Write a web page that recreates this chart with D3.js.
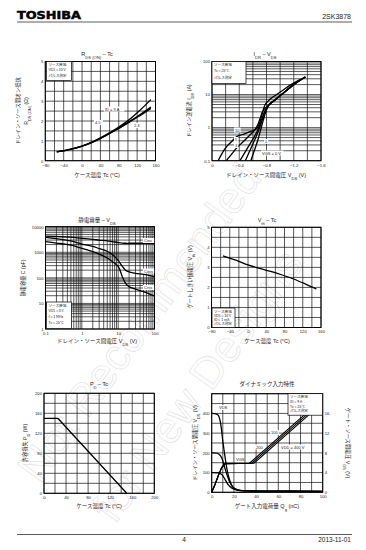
<!DOCTYPE html>
<meta charset="utf-8">
<style>
body { margin: 0; background: #fff; }
text { font-family: "Liberation Sans", Arial, sans-serif; fill: #222; }
.jp { font-family: "Noto Sans CJK JP", sans-serif; }
</style>
<svg id="page" width="366" height="550"></svg>
<script src="https://d3js.org/d3.v7.min.js"></script>
<script>

// ---- RDS(ON) - Tc
var rdsTc = [-55, -25, 0, 25, 50, 75, 100, 125, 150];
var rdsId9 = [0.45, 0.58, 0.74, 0.98, 1.28, 1.62, 2.02, 2.52, 3.08];
var rdsId45 = [0.44, 0.57, 0.73, 0.96, 1.25, 1.58, 1.93, 2.3, 2.7];
var rdsId23 = [0.44, 0.57, 0.73, 0.95, 1.24, 1.56, 1.9, 2.25, 2.63];

// ---- IDR - VDS  (one V / I pair per VGS)
var idr10V = [-0.09, -0.15, -0.21, -0.3, -0.36, -0.45, -0.55, -0.62, -0.66, -0.7, -0.73, -0.78, -0.86, -0.95, -1.05, -1.16, -1.27, -1.37];
var idr10I = [0.1, 0.17, 0.26, 0.4, 0.53, 0.62, 0.74, 0.85, 0.95, 1.4, 2.3, 5, 7.5, 10, 14, 20, 27, 34];
var idr5V = [-0.21, -0.28, -0.36, -0.46, -0.55, -0.62, -0.67, -0.71, -0.75, -0.84, -0.93, -1.02, -1.2, -1.37];
var idr5I = [0.1, 0.15, 0.24, 0.38, 0.58, 0.82, 1.2, 2, 3.3, 5, 7, 10, 20, 34];
var idr3V = [-0.41, -0.47, -0.54, -0.6, -0.66, -0.7, -0.74, -0.78, -0.84, -0.93, -1.02, -1.2, -1.37];
var idr3I = [0.1, 0.16, 0.28, 0.45, 0.75, 1.2, 2, 3.3, 5, 7, 10, 20, 34];
var idr1V = [-0.49, -0.54, -0.6, -0.65, -0.7, -0.74, -0.78, -0.84, -0.93, -1.02, -1.2, -1.37];
var idr1I = [0.1, 0.17, 0.32, 0.55, 1, 1.8, 3.2, 5, 7, 10, 20, 34];
var idr0V = [-0.57, -0.62, -0.67, -0.71, -0.75, -0.79, -0.84, -0.93, -1.02, -1.2, -1.37];
var idr0I = [0.1, 0.2, 0.4, 0.8, 1.6, 3, 5, 7, 10, 20, 34];

// ---- Capacitance - VDS
var capV = [0.1, 0.2, 0.5, 1, 2, 3, 5, 7, 10, 13, 16, 20, 30, 50, 100];
var ciss = [4300, 4200, 3900, 3500, 3200, 3000, 2800, 2600, 2400, 2300, 2250, 2250, 2250, 2250, 2250];
var coss = [3800, 3400, 2800, 2100, 1700, 1400, 1100, 800, 480, 280, 200, 172, 150, 137, 112];
var crss = [2600, 2300, 1900, 1420, 1050, 850, 600, 430, 280, 111, 61, 45, 36, 29, 19.5];

// ---- Vth - Tc
var vthTc = [-55, -25, 0, 25, 50, 75, 100, 125, 150];
var vth = [3.58, 3.35, 3.12, 2.95, 2.8, 2.62, 2.42, 2.18, 1.92];

// ---- PD - Tc
var pdTc = [0, 25, 150];
var pd = [150, 150, 0];

// ---- Dynamic input characteristics
var vds400Q = [0, 4, 6, 8, 10, 12, 14, 16, 18, 20, 24, 30, 50, 100];
var vds400 = [400, 398, 390, 350, 260, 180, 110, 65, 35, 20, 10, 7, 6, 5];
var vds200Q = [0, 5, 8, 10, 12, 14, 16, 18, 20, 24, 30, 50, 100];
var vds200 = [200, 198, 185, 160, 120, 85, 55, 35, 22, 12, 8, 6, 5];
var vds100Q = [0, 6, 9, 11, 13, 15, 18, 22, 28, 50, 100];
var vds100 = [100, 98, 90, 75, 55, 38, 22, 12, 8, 6, 5];
var vgsQ400 = [0, 3, 6, 9, 12, 38, 88];
var vgs400 = [0, 1.6, 3.4, 5, 5.8, 5.9, 15.8];
var vgsQ200 = [0, 3, 6, 9, 12, 36, 88];
var vgs200 = [0, 1.6, 3.4, 5, 5.8, 5.9, 16.2];
var vgsQ100 = [0, 3, 6, 9, 12, 34, 88];
var vgs100 = [0, 1.6, 3.4, 5, 5.8, 5.9, 16.6];

var svg = d3.select("#page");

// watermark
var wm = svg.append("g");
wm.append("text").attr("transform", "translate(40,485) rotate(-54)")
    .attr("font-size", 44).style("fill", "none").style("stroke", "#e0e0e0").style("stroke-width", 0.6)
    .text("Not Recommended");
wm.append("text").attr("transform", "translate(115,525) rotate(-54)")
    .attr("font-size", 44).style("fill", "none").style("stroke", "#e0e0e0").style("stroke-width", 0.6)
    .text("for New Designs");

// header / footer
svg.append("text").attr("x", 17).attr("y", 18.5).attr("font-size", 10.5).attr("font-weight", "bold")
    .attr("textLength", 64).attr("lengthAdjust", "spacingAndGlyphs")
    .style("font-family", "DejaVu Sans").style("fill", "#000").style("stroke", "#000").style("stroke-width", 0.5)
    .text("TOSHIBA");
svg.append("text").attr("x", 351).attr("y", 18.5).attr("font-size", 7).attr("text-anchor", "end").text("2SK3878");
svg.append("line").attr("x1", 17).attr("x2", 352).attr("y1", 22).attr("y2", 22).attr("stroke", "#333").attr("stroke-width", 0.8);
svg.append("line").attr("x1", 17).attr("x2", 352).attr("y1", 534.5).attr("y2", 534.5).attr("stroke", "#333").attr("stroke-width", 0.8);
svg.append("text").attr("x", 184).attr("y", 542).attr("font-size", 6.5).attr("text-anchor", "middle").text("4");
svg.append("text").attr("x", 351).attr("y", 542).attr("font-size", 6.5).attr("text-anchor", "end").text("2013-11-01");

// grid + frame
function panel(x, y, gx, gy) {
  var g = svg.append("g");
  var xr = x.range(), yr = y.range();
  g.selectAll(".gx").data(gx).enter().append("line")
      .attr("x1", d => x(d)).attr("x2", d => x(d))
      .attr("y1", yr[0]).attr("y2", yr[1])
      .attr("stroke", "#111").attr("stroke-width", 0.7);
  g.selectAll(".gy").data(gy).enter().append("line")
      .attr("y1", d => y(d)).attr("y2", d => y(d))
      .attr("x1", xr[0]).attr("x2", xr[1])
      .attr("stroke", "#111").attr("stroke-width", 0.7);
  g.append("rect")
      .attr("x", Math.min(xr[0], xr[1])).attr("y", Math.min(yr[0], yr[1]))
      .attr("width", Math.abs(xr[1] - xr[0])).attr("height", Math.abs(yr[1] - yr[0]))
      .attr("fill", "none").attr("stroke", "#000").attr("stroke-width", 1);
  return g;
}

function axes(g, x, y, xt, yt, xf, yf) {
  var ax = g.append("g").attr("transform", "translate(0," + y.range()[0] + ")")
      .call(d3.axisBottom(x).tickValues(xt).tickSize(0).tickPadding(3).tickFormat(xf || d3.format("")));
  ax.select(".domain").remove();
  ax.selectAll("text").attr("font-size", 4.2).attr("font-family", "Liberation Sans").attr("fill", "#222");
  var ay = g.append("g").attr("transform", "translate(" + x.range()[0] + ",0)")
      .call(d3.axisLeft(y).tickValues(yt).tickSize(0).tickPadding(2).tickFormat(yf || d3.format("")));
  ay.select(".domain").remove();
  ay.selectAll("text").attr("font-size", 4.2).attr("font-family", "Liberation Sans").attr("fill", "#222");
}

// text with subscript parts: [["R"], ["DS (ON)", "sub"], ...]
function rich(sel, parts, size) {
  parts.forEach(function(p) {
    var t = sel.append("tspan").text(p[0]);
    if (p[1] === "sub") t.attr("font-size", size * 0.75).attr("baseline-shift", "sub");
    if (p[2]) t.attr("class", "jp");
  });
  return sel;
}

function title(x, y, parts) {
  rich(svg.append("text").attr("x", x).attr("y", y).attr("font-size", 5.5).attr("text-anchor", "middle"), parts, 5.5);
}

function ytitle(x, y, parts) {
  rich(svg.append("text").attr("transform", "translate(" + x + "," + y + ") rotate(-90)")
      .attr("font-size", 5.2).attr("text-anchor", "middle"), parts, 5.2);
}

function legendBox(x0, y0, w, h, lines) {
  svg.append("rect").attr("x", x0).attr("y", y0).attr("width", w).attr("height", h)
      .attr("fill", "#fff").attr("stroke", "#000").attr("stroke-width", 0.7);
  lines.forEach(function(l, i) {
    svg.append("text").attr("class", "jp").attr("x", x0 + 2).attr("y", y0 + 4.6 + i * (h - 3) / lines.length)
        .attr("font-size", 3.6).text(l);
  });
}

function note(x, y, s, bg) {
  if (bg) svg.append("rect").attr("x", x - 1).attr("y", y - 4).attr("width", s.length * 2.3 + 2).attr("height", 5)
      .attr("fill", "#fff");
  svg.append("text").attr("x", x).attr("y", y).attr("font-size", 4).text(s);
}

function curve(x, y, xs, ys, w, straight) {
  svg.append("path")
      .datum(xs.map((d, i) => [d, ys[i]]))
      .attr("fill", "none").attr("stroke", "#000").attr("stroke-width", w || 1.3)
      .attr("stroke-linejoin", "round")
      .attr("d", d3.line().x(d => x(d[0])).y(d => y(d[1]))
          .curve(straight ? d3.curveLinear : d3.curveCatmullRom));
}

var tenths = d3.range(0, 5.01, 0.5);
var tc20 = d3.range(-80, 161, 20);
function logGrid(a, b) {
  var out = [];
  for (var e = a; e < b; e++) for (var k = 1; k < 10; k++) out.push(k * Math.pow(10, e));
  out.push(Math.pow(10, b));
  return out;
}

// ================= 1. RDS(ON) - Tc
var x1 = d3.scaleLinear().domain([-80, 160]).range([45.3, 155.5]);
var y1 = d3.scaleLinear().domain([0, 5]).range([160.7, 61.5]);
var g1 = panel(x1, y1, tc20, tenths);
axes(g1, x1, y1, d3.range(-80, 161, 40), d3.range(0, 6, 1));
curve(x1, y1, rdsTc, rdsId9);
curve(x1, y1, rdsTc, rdsId45);
curve(x1, y1, rdsTc, rdsId23);
legendBox(46.5, 61.5, 25, 19, ["ソース接地", "VGS = 10 V", "パルス測定"]);
note(105, 110.5, "ID = 9 A", true);
note(95, 124, "4.5", true);
note(134, 127, "2.3", true);
title(97, 56, [["R"], ["DS (ON)", "sub"], [" – Tc"]]);
title(97, 177, [["ケース温度", "", 1], ["   Tc   (°C)"]]);
ytitle(20, 111, [["ドレイン・ソース間オン抵抗", "", 1]]);
ytitle(28, 111, [["R"], ["DS (ON)", "sub"], ["   (Ω)"]]);

// ================= 2. IDR - VDS
var x2 = d3.scaleLinear().domain([0, -1.6]).range([212, 321]);
var y2 = d3.scaleLog().domain([0.1, 100]).range([160.7, 61.5]);
var g2 = panel(x2, y2, d3.range(0, -1.61, -0.2), logGrid(-1, 2));
axes(g2, x2, y2, [0, -0.4, -0.8, -1.2, -1.6], [0.1, 1, 10, 100], d3.format(""), d3.format(""));
curve(x2, y2, idr10V, idr10I);
curve(x2, y2, idr5V, idr5I);
curve(x2, y2, idr3V, idr3I);
curve(x2, y2, idr1V, idr1I);
curve(x2, y2, idr0V, idr0I);
legendBox(212, 61.5, 34, 22, ["ソース接地", "Tc = 25°C", "パルス測定"]);
note(235, 131.5, "10", true);
note(235, 141, "5", true);
note(235, 147, "3", true);
note(265, 143, "1", true);
note(262, 154.5, "VGS = 0 V", true);
title(265, 56, [["I"], ["DR", "sub"], [" – V"], ["DS", "sub"]]);
title(266, 177, [["ドレイン・ソース間電圧", "", 1], ["   V"], ["DS", "sub"], ["   (V)"]]);
ytitle(191, 111, [["ドレイン逆電流", "", 1], ["   I"], ["DR", "sub"], ["   (A)"]]);

// ================= 3. Capacitance - VDS
var x3 = d3.scaleLog().domain([0.1, 100]).range([45.5, 154.5]);
var y3 = d3.scaleLog().domain([1, 10000]).range([329, 226.7]);
var g3 = panel(x3, y3, logGrid(-1, 2), logGrid(0, 4));
axes(g3, x3, y3, [0.1, 1, 10, 100], [1, 10, 100, 1000, 10000], d3.format(""), d3.format(""));
curve(x3, y3, capV, ciss);
curve(x3, y3, capV, coss);
curve(x3, y3, capV, crss);
legendBox(46.5, 302, 25, 26.5, ["ソース接地", "VGS = 0 V", "f = 1 MHz", "Tc = 25°C"]);
note(144, 242, "Ciss", true);
note(144, 272.5, "Coss", true);
note(144, 289, "Crss", true);
title(97, 222, [["静電容量", "", 1], [" – V"], ["DS", "sub"]]);
title(97, 343, [["ドレイン・ソース間電圧", "", 1], ["   V"], ["DS", "sub"], ["   (V)"]]);
ytitle(25, 278, [["静電容量", "", 1], ["    C    (pF)"]]);

// ================= 4. Vth - Tc
var x4 = d3.scaleLinear().domain([-80, 160]).range([211.5, 321]);
var y4 = d3.scaleLinear().domain([0, 5]).range([327.5, 227.3]);
var g4 = panel(x4, y4, tc20, tenths);
axes(g4, x4, y4, d3.range(-80, 161, 40), d3.range(0, 6, 1));
curve(x4, y4, vthTc, vth);
legendBox(212, 308, 23, 19.5, ["ソース接地", "VDS = 10 V", "ID = 1 mA", "パルス測定"]);
title(267, 222, [["V"], ["th", "sub"], [" – Tc"]]);
title(267, 343, [["ケース温度", "", 1], ["   Tc   (°C)"]]);
ytitle(192, 277, [["ゲートしきい値電圧", "", 1], ["   V"], ["th", "sub"], ["   (V)"]]);

// ================= 5. PD - Tc
var x5 = d3.scaleLinear().domain([0, 200]).range([44, 154.3]);
var y5 = d3.scaleLinear().domain([0, 200]).range([493.3, 393.3]);
var g5 = panel(x5, y5, d3.range(0, 201, 20), d3.range(0, 201, 20));
axes(g5, x5, y5, d3.range(0, 201, 40), d3.range(0, 201, 40));
curve(x5, y5, pdTc, pd, 1.3, true);
title(99, 386, [["P"], ["D", "sub"], [" – Tc"]]);
title(99, 508, [["ケース温度", "", 1], ["   Tc   (°C)"]]);
ytitle(27, 443, [["許容損失", "", 1], [" P"], ["D", "sub"], ["   (W)"]]);

// ================= 6. Dynamic input characteristics
var x6 = d3.scaleLinear().domain([0, 100]).range([211.7, 322.7]);
var y6 = d3.scaleLinear().domain([0, 500]).range([492.3, 393.7]);
var y6r = d3.scaleLinear().domain([0, 20]).range([492.3, 393.7]);
var g6 = panel(x6, y6, d3.range(0, 101, 10), d3.range(0, 501, 50));
axes(g6, x6, y6, d3.range(0, 101, 20), d3.range(0, 401, 100));
var ar = g6.append("g").attr("transform", "translate(322.7,0)")
    .call(d3.axisRight(y6r).tickValues(d3.range(0, 17, 4)).tickSize(0).tickPadding(2));
ar.select(".domain").remove();
ar.selectAll("text").attr("font-size", 4.2).attr("font-family", "Liberation Sans").attr("fill", "#222");
curve(x6, y6, vds400Q, vds400);
curve(x6, y6, vds200Q, vds200);
curve(x6, y6, vds100Q, vds100);
curve(x6, y6r, vgsQ400, vgs400, 1.1, true);
curve(x6, y6r, vgsQ200, vgs200, 1.1, true);
curve(x6, y6r, vgsQ100, vgs100, 1.1, true);
legendBox(288, 393.7, 34.5, 21.5, ["ソース接地", "ID = 9 A", "Tc = 25°C", "パルス測定"]);
note(219, 409, "VDS", true);
note(236, 461, "VGS", true);
note(271, 434, "100", true);
note(256, 448.5, "200", true);
note(281, 448.5, "VDD = 400 V", true);
title(267, 386, [["ダイナミック入力特性", "", 1]]);
title(267, 508, [["ゲート入力電荷量", "", 1], ["   Q"], ["g", "sub"], ["   (nC)"]]);
ytitle(197, 443, [["ドレイン・ソース間電圧", "", 1], ["   V"], ["DS", "sub"], ["   (V)"]]);
svg.append("text").attr("transform", "translate(346,443) rotate(90)").attr("font-size", 5.2)
    .attr("text-anchor", "middle").call(rich, [["ゲート・ソース間電圧", "", 1], ["   V"], ["GS", "sub"], ["   (V)"]], 5.2);

</script>
